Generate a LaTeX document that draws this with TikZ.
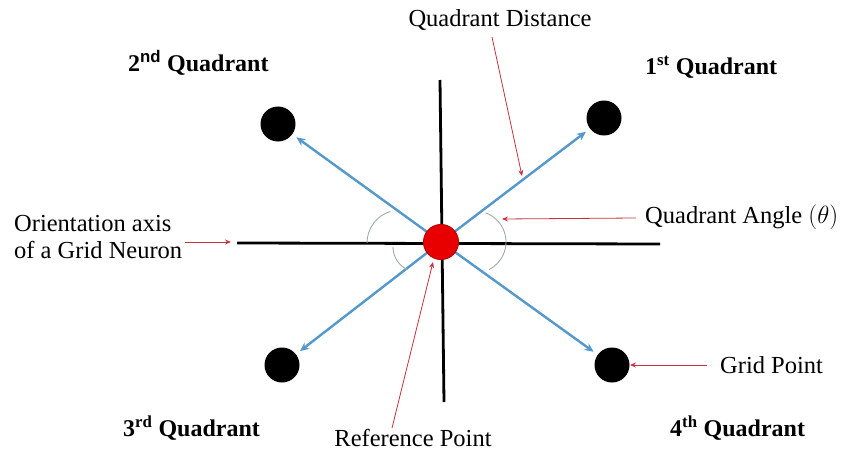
\documentclass[tikz,border=0pt]{standalone}
\usepackage{fontspec}
\setmainfont{Liberation Serif}
\newfontfamily\supsans{Liberation Sans}
\usetikzlibrary{arrows.meta,calc}
\definecolor{axblue}{RGB}{84,152,204}
\definecolor{annred}{RGB}{196,52,64}
\definecolor{arcgray}{RGB}{160,170,170}
\definecolor{refred}{RGB}{232,0,0}
\begin{document}
\begin{tikzpicture}[x=1pt,y=-1pt,
  lbl/.style={inner sep=0pt,font=\fontsize{24.5}{27}\selectfont},
  qlbl/.style={inner sep=0pt,font=\fontsize{24}{27}\selectfont\bfseries},
  gpt/.style={circle,fill=black,minimum size=35pt,inner sep=0pt},
  refpt/.style={circle,fill=refred,draw=refred!80!black,line width=1pt,minimum size=35pt,inner sep=0pt},
  axisline/.style={line width=2.8pt,black},
  vec/.style={line width=2.4pt,axblue,-{Stealth[length=9pt,width=8pt]},shorten >=5pt},
  ann/.style={line width=0.8pt,annred,-{Stealth[length=6pt,width=5pt]}},
  anglearc/.style={line width=0.9pt,arcgray}]
\path[use as bounding box,fill=white] (0,0) rectangle (844,452);

% axes
\coordinate (axL) at (237,243);
\coordinate (axR) at (660,244);
\coordinate (axT) at (440,80);
\coordinate (axB) at (444,402);
\draw[axisline] (axL) -- (axR);
\draw[axisline] (axT) -- (axB);

% grid points
\coordinate (o) at (441,242);
\node[gpt] (nw) at (278,124) {};
\node[gpt] (ne) at (604,118) {};
\node[gpt] (sw) at (282,365) {};
\node[gpt] (se) at (612,365) {};

% vectors
\draw[vec] (o) -- (nw);
\draw[vec] (o) -- (ne);
\draw[vec] (o) -- (sw);
\draw[vec] (o) -- (se);

% angle arcs
\coordinate (ca1) at (400,243);
\coordinate (ca2) at (418,247);
\coordinate (ca3) at (475,242);
\draw[anglearc] ($(ca1)+(253:33)$) arc[start angle=253,end angle=180,radius=33];
\draw[anglearc] ($(ca2)+(180:25)$) arc[start angle=180,end angle=115,radius=25];
\draw[anglearc] ($(ca3)+(-70:31)$) arc[start angle=-70,end angle=63,radius=31];

% reference point
\node[refpt] (ref) at (o) {};

% labels
\node[qlbl,anchor=west] (q2) at (128,63) {2{\supsans\textsuperscript{nd}} Quadrant};
\node[qlbl,anchor=west] (q1) at (645,67) {1\textsuperscript{st} Quadrant};
\node[qlbl,anchor=west] (q3) at (123,428) {3\textsuperscript{rd} Quadrant};
\node[qlbl,anchor=west] (q4) at (670,428) {4\textsuperscript{th} Quadrant};

\node[lbl] (qd) at (500,20) {Quadrant Distance};
\node[lbl,anchor=west] (qa) at (645,217) {Quadrant Angle $(\theta)$};
\node[lbl,anchor=west,align=left] (oa) at (14,237) {Orientation axis\\of a Grid Neuron};
\node[lbl,anchor=west] (gp) at (720,365) {Grid Point};
\node[lbl] (rp) at (413,438) {Reference Point};

% annotation arrows
\coordinate (qdS) at (492,37);
\coordinate (qdE) at (522,176);
\coordinate (qaS) at (636,218);
\coordinate (qaE) at (502,219);
\coordinate (oaS) at (185,242);
\coordinate (oaE) at (231,242);
\coordinate (gpS) at (707,365);
\coordinate (gpE) at (630,365);
\coordinate (rpS) at (392,428);
\coordinate (rpE) at (433,262);
\draw[ann] (qdS) -- (qdE);
\draw[ann] (qaS) -- (qaE);
\draw[ann] (oaS) -- (oaE);
\draw[ann] (gpS) -- (gpE);
\draw[ann] (rpS) -- (rpE);
\end{tikzpicture}
\end{document}
